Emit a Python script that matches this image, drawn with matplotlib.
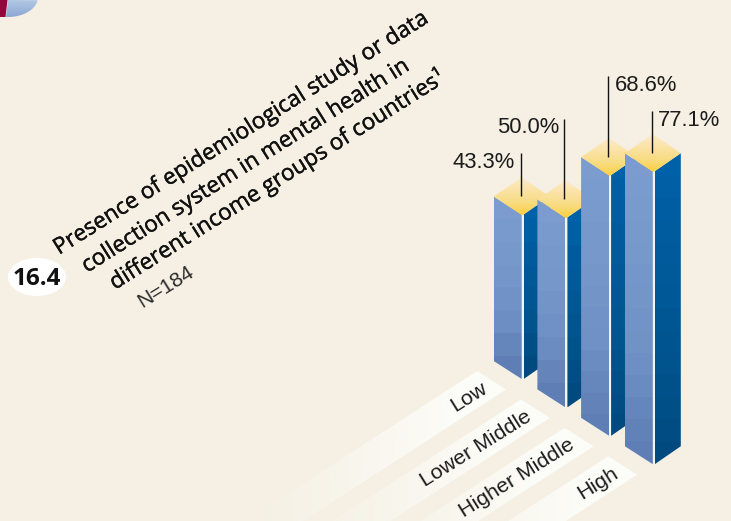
import numpy as np
import matplotlib
matplotlib.use("Agg")
import matplotlib.pyplot as plt
import matplotlib.patheffects as pe
from matplotlib.patches import Polygon, Ellipse
from matplotlib.colors import LinearSegmentedColormap, to_rgba

categories = ["Low", "Lower Middle", "Higher Middle", "High"]
values = [43.3, 50.0, 68.6, 77.1]
title_lines = ["Presence of epidemiological study or data",
               "collection system in mental health in",
               "different income groups of countries\u00b9"]

BG = "#F5F0E3"
W, H = 731, 521
fig = plt.figure(figsize=(W / 100, H / 100), dpi=100, facecolor=BG)
ax = fig.add_axes([0, 0, 1, 1])
ax.set_xlim(0, W)
ax.set_ylim(H, 0)
ax.axis("off")

PX = 3.8          # px per percent
X0, Y0 = 521.7, 379.0
DX, DY = 43.7, 28.4
HW, HH = 28.0, 18.0
GAP = 2.0


def grad_poly(pts, stops, z, steps=None):
    """Fill polygon with a vertical gradient (optionally banded)."""
    pts = np.array(pts, float)
    cm = LinearSegmentedColormap.from_list("c", stops)
    y0, y1 = pts[:, 1].min(), pts[:, 1].max()
    n = int(max(2, y1 - y0)) * 2
    t = np.linspace(0, 1, n)
    if steps:
        t = np.floor(t * steps) / max(steps - 1, 1)
        t = np.clip(t, 0, 1)
    im = ax.imshow(t[:, None], cmap=cm, vmin=0, vmax=1, aspect="auto",
                   extent=(pts[:, 0].min(), pts[:, 0].max(), y1, y0),
                   zorder=z, interpolation="nearest")
    patch = Polygon(pts, closed=True, transform=ax.transData, fc="none", ec="none")
    ax.add_patch(patch)
    im.set_clip_path(patch)
    return im


# label strips
LEN_X, LEN_Y = -255.0, 165.0
for i, cat in enumerate(categories):
    fx = X0 + DX * i
    fy = Y0 + DY * i
    tx, ty = fx - 44.5, fy - 8.0      # top vertex of the strip end
    rx, ry = tx + 29, ty + 18.5
    pts = np.array([(tx, ty), (rx, ry), (rx + LEN_X, ry + LEN_Y), (tx + LEN_X, ty + LEN_Y)])
    n = 256
    g = np.zeros((1, n, 4))
    g[..., :3] = to_rgba("#FCFCF8")[:3]
    xs = np.linspace(0, 1, n)  # 0 = far lower-left
    g[0, :, 3] = np.clip((xs - 0.06) * 1.35, 0, 1) ** 1.3
    x0, x1 = pts[:, 0].min(), pts[:, 0].max()
    im = ax.imshow(g, extent=(x0, x1, pts[:, 1].max(), pts[:, 1].min()),
                   aspect="auto", zorder=1, interpolation="bilinear")
    p = Polygon(pts, closed=True, fc="none", ec="none")
    ax.add_patch(p)
    im.set_clip_path(p)
    ax.text(tx + 11.5, ty + 20.0, cat, rotation=32, rotation_mode="anchor",
            ha="right", va="baseline", fontsize=15.4, family="Liberation Sans",
            color="#1c1c1c", zorder=3)

# bars
LEFT = ["#7C9CCF", "#7698CB", "#6F91C5", "#5E7EB5"]
RIGHT = ["#0061A8", "#005A9B", "#00558F", "#004A80"]
for i, v in enumerate(values):
    fx = X0 + DX * i
    by = Y0 + DY * i
    ty = by - v * PX
    z = 5 + i
    steps = max(4, int(v * PX / 20))
    ax.add_patch(Polygon([(fx - 1, ty), (fx + GAP + 1, ty), (fx + GAP + 1, by), (fx - 1, by)],
                         fc="#F3F3F0", ec="none", zorder=z))
    grad_poly([(fx - HW, ty - HH), (fx, ty), (fx, by), (fx - HW, by - HH)],
              LEFT, z, steps=steps)
    grad_poly([(fx + GAP, ty), (fx + HW, ty - HH), (fx + HW, by - HH), (fx + GAP, by)],
              RIGHT, z, steps=steps)
    grad_poly([(fx - HW, ty - HH), (fx, ty - 2 * HH - 1), (fx + HW, ty - HH), (fx + 1, ty + 0.5), (fx, ty + 0.5)],
              ["#FCEBC6", "#FBE3A8", "#F7DC80", "#FFD040"], z)

# value labels + leaders
tops = [153, 119, 76, 111]
lab_x = [515, 559, 615, 658]
lab_y = [168, 133, 91, 126]
has = ["right", "right", "left", "left"]
for i, v in enumerate(values):
    fx = X0 + DX * i - 1
    ty = Y0 + DY * i - v * PX
    ax.plot([fx, fx], [tops[i], ty - HH], color="#111111", lw=1.0, zorder=20,
            solid_capstyle="butt")
    ax.text(lab_x[i], lab_y[i], f"{v:.1f}%", ha=has[i], va="baseline",
            fontsize=15.8, family="Liberation Sans", color="#1c1c1c", zorder=21)

# title
starts = [(59, 255), (87, 273), (115, 290)]
for (sx, sy), line in zip(starts, title_lines):
    ax.text(sx, sy, line, rotation=32.2, rotation_mode="anchor", ha="left", va="baseline",
            fontsize=16.2, family="Open Sans", color="#111111", zorder=10,
            path_effects=[pe.withStroke(linewidth=0.3, foreground="#111111")])
ax.text(142, 308, "N=184", rotation=32, rotation_mode="anchor", ha="left", va="baseline",
        fontsize=15, family="Liberation Sans", color="#2a2a2a", zorder=10)

ax.add_patch(Ellipse((37, 277), 58, 38, fc="white", ec="none", zorder=10))
ax.text(37, 285, "16.4", ha="center", va="baseline", fontsize=17.5, family="Open Sans",
        weight="bold", color="#111111", zorder=11)

# neighbouring chart fragment at top-left
th = np.linspace(0, 90, 40)
arc = np.column_stack([8 + 30 * np.cos(np.radians(th)), -3 + 20 * np.sin(np.radians(th))])
grad_poly(np.vstack([[8, 0], arc[arc[:, 1] >= 0], [6, 17]]), ["#B0C8E4", "#8FA8D4"], 12)
ax.add_patch(Polygon([(0, 0), (7.5, 0), (5.5, 17), (0, 17)], fc="#94063C", ec="none", zorder=12))

fig.savefig("out.png", dpi=100, facecolor=BG)
